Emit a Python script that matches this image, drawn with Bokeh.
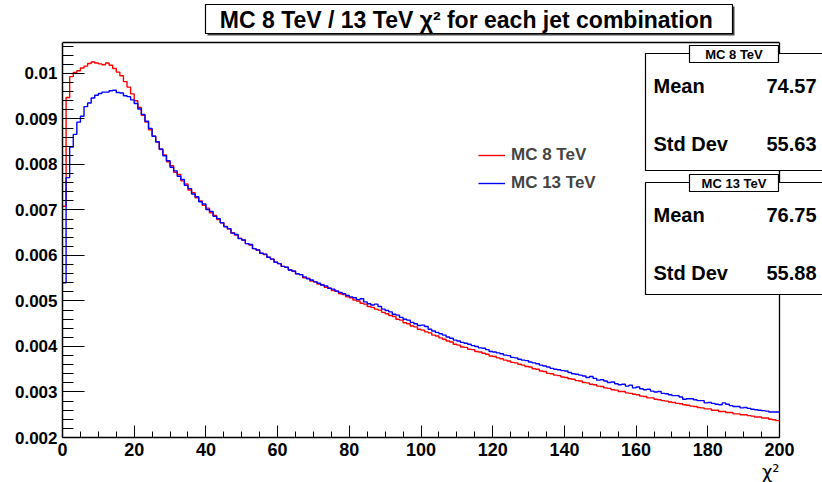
from bokeh.plotting import figure
from bokeh.models import (FixedTicker, CustomJSTickFormatter, Label, BoxAnnotation,
                          Legend, LegendItem, Range1d, Title)
from bokeh.embed import file_html
from bokeh.resources import INLINE

# ---------------- data ----------------
bin_edges = list(range(0, 201))          # 200 bins of width 1 in chi2

mc8 = [
    0.00708, 0.00947, 0.00993, 0.01002, 0.01006, 0.01012, 0.01016, 0.01022, 0.01025, 0.01023,
    0.01021, 0.01019, 0.01023, 0.01018, 0.01011, 0.01003, 0.00995, 0.00982, 0.00970, 0.00955,
    0.00940, 0.00925, 0.00908, 0.00893, 0.00876, 0.00862, 0.00849, 0.00833, 0.00821, 0.00806,
    0.00797, 0.00783, 0.00778, 0.00764, 0.00757, 0.00744, 0.00738, 0.00727, 0.00720, 0.00710,
    0.00704, 0.00694, 0.00688, 0.00679, 0.00672, 0.00664, 0.00658, 0.00650, 0.00645, 0.00638,
    0.00634, 0.00626, 0.00623, 0.00615, 0.00612, 0.00605, 0.00602, 0.00596, 0.00592, 0.00585,
    0.00582, 0.00576, 0.00574, 0.00568, 0.00565, 0.00560, 0.00558, 0.00551, 0.00550, 0.00544,
    0.00542, 0.00537, 0.00535, 0.00530, 0.00528, 0.00523, 0.00521, 0.00516, 0.00514, 0.00509,
    0.00507, 0.00502, 0.00500, 0.00495, 0.00493, 0.00488, 0.00486, 0.00482, 0.00480, 0.00475,
    0.00472, 0.00468, 0.00466, 0.00460, 0.00458, 0.00452, 0.00450, 0.00445, 0.00443, 0.00438,
    0.00436, 0.00432, 0.00430, 0.00425, 0.00423, 0.00419, 0.00416, 0.00412, 0.00410, 0.00405,
    0.00403, 0.00399, 0.00398, 0.00394, 0.00393, 0.00389, 0.00388, 0.00385, 0.00383, 0.00379,
    0.00378, 0.00375, 0.00373, 0.00370, 0.00368, 0.00365, 0.00364, 0.00361, 0.00359, 0.00356,
    0.00355, 0.00351, 0.00350, 0.00346, 0.00345, 0.00341, 0.00340, 0.00337, 0.00336, 0.00333,
    0.00332, 0.00329, 0.00328, 0.00325, 0.00324, 0.00321, 0.00320, 0.00317, 0.00316, 0.00313,
    0.00312, 0.00309, 0.00308, 0.00305, 0.00304, 0.00301, 0.00301, 0.00298, 0.00297, 0.00295,
    0.00294, 0.00291, 0.00290, 0.00287, 0.00287, 0.00284, 0.00283, 0.00281, 0.00280, 0.00278,
    0.00277, 0.00275, 0.00274, 0.00272, 0.00271, 0.00269, 0.00268, 0.00266, 0.00265, 0.00263,
    0.00263, 0.00260, 0.00260, 0.00257, 0.00257, 0.00255, 0.00255, 0.00252, 0.00252, 0.00250,
    0.00250, 0.00248, 0.00247, 0.00245, 0.00245, 0.00243, 0.00243, 0.00240, 0.00239, 0.00237,
]

mc13 = [
    0.00540, 0.00771, 0.00838, 0.00866, 0.00893, 0.00906, 0.00927, 0.00935, 0.00946, 0.00952,
    0.00956, 0.00959, 0.00959, 0.00962, 0.00963, 0.00958, 0.00957, 0.00951, 0.00949, 0.00942,
    0.00934, 0.00922, 0.00910, 0.00895, 0.00879, 0.00862, 0.00850, 0.00834, 0.00819, 0.00808,
    0.00794, 0.00786, 0.00774, 0.00767, 0.00754, 0.00747, 0.00735, 0.00729, 0.00718, 0.00713,
    0.00701, 0.00697, 0.00686, 0.00681, 0.00672, 0.00663, 0.00659, 0.00649, 0.00646, 0.00637,
    0.00634, 0.00626, 0.00624, 0.00615, 0.00612, 0.00605, 0.00603, 0.00596, 0.00592, 0.00585,
    0.00582, 0.00576, 0.00574, 0.00568, 0.00566, 0.00560, 0.00558, 0.00553, 0.00549, 0.00546,
    0.00542, 0.00539, 0.00535, 0.00533, 0.00528, 0.00526, 0.00522, 0.00519, 0.00516, 0.00512,
    0.00509, 0.00507, 0.00503, 0.00505, 0.00498, 0.00494, 0.00491, 0.00493, 0.00488, 0.00482,
    0.00479, 0.00476, 0.00471, 0.00469, 0.00464, 0.00460, 0.00458, 0.00453, 0.00450, 0.00446,
    0.00447, 0.00444, 0.00438, 0.00434, 0.00431, 0.00428, 0.00425, 0.00421, 0.00418, 0.00414,
    0.00412, 0.00409, 0.00407, 0.00405, 0.00402, 0.00400, 0.00397, 0.00396, 0.00393, 0.00389,
    0.00388, 0.00386, 0.00384, 0.00381, 0.00380, 0.00376, 0.00375, 0.00372, 0.00370, 0.00369,
    0.00366, 0.00364, 0.00362, 0.00359, 0.00357, 0.00355, 0.00352, 0.00350, 0.00349, 0.00347,
    0.00346, 0.00343, 0.00340, 0.00339, 0.00337, 0.00335, 0.00332, 0.00334, 0.00330, 0.00326,
    0.00327, 0.00324, 0.00321, 0.00322, 0.00318, 0.00316, 0.00317, 0.00313, 0.00315, 0.00309,
    0.00311, 0.00307, 0.00305, 0.00306, 0.00302, 0.00300, 0.00301, 0.00297, 0.00296, 0.00294,
    0.00292, 0.00292, 0.00289, 0.00284, 0.00285, 0.00285, 0.00283, 0.00281, 0.00281, 0.00276,
    0.00277, 0.00275, 0.00273, 0.00272, 0.00276, 0.00273, 0.00270, 0.00268, 0.00268, 0.00265,
    0.00266, 0.00264, 0.00262, 0.00261, 0.00260, 0.00259, 0.00258, 0.00256, 0.00256, 0.00256,
]

series_names = ["MC 8 TeV", "MC 13 TeV"]
stat_mean = ["74.57", "76.75"]
stat_std = ["55.63", "55.88"]

x_ticks = list(range(0, 201, 20))
x_minor = list(range(0, 201, 5))
y_ticks = [0.002, 0.003, 0.004, 0.005, 0.006, 0.007, 0.008, 0.009, 0.010]
y_minor = [round(0.002 + 0.0002 * i, 6) for i in range(0, 44)]

X_LO, X_HI = 0.0, 200.0          # histogram axis extent
Y_LO, Y_HI = 0.002, 0.01068      # displayed y extent

title_text = "MC 8 TeV / 13 TeV  \u03c7\u00b2 for each jet combination"
x_label = "\u03c7\u00b2"

# ---------------- layout ----------------
W, H = 822, 482
FL, FR, FT, FB = 62, 779, 42, 437      # visible histogram frame in pixels
FONT = "Liberation Sans"

# the Bokeh frame spans to the right and top edges of the canvas so that the
# boxes drawn there are not clipped; the axes are bounded to the histogram extent
x_end = X_LO + (X_HI - X_LO) * (W - FL) / (FR - FL)
y_end = Y_LO + (Y_HI - Y_LO) * FB / (FB - FT)


def sx(cx):
    return cx - FL


def sy(cy):
    return FB - cy


p = figure(width=W, height=H, output_backend="svg", toolbar_location=None,
           title=None,
           x_range=Range1d(X_LO, x_end), y_range=Range1d(Y_LO, y_end),
           min_border=0, min_border_left=FL, min_border_right=0,
           min_border_top=0, min_border_bottom=H - FB)
p.grid.visible = False
p.background_fill_color = "white"
p.border_fill_color = "white"
p.outline_line_color = None

xa = p.xaxis[0]
xa.bounds = (X_LO, X_HI)
xa.ticker = FixedTicker(ticks=x_ticks, minor_ticks=x_minor)
xa.major_tick_in = 12
xa.major_tick_out = 0
xa.minor_tick_in = 6
xa.minor_tick_out = 0
xa.major_label_standoff = 5
ya = p.yaxis[0]
ya.bounds = (Y_LO, Y_HI)
ya.ticker = FixedTicker(ticks=y_ticks, minor_ticks=y_minor)
ya.formatter = CustomJSTickFormatter(code="return tick.toFixed(3).replace(/0+$/, '');")
ya.major_tick_in = 22
ya.major_tick_out = 0
ya.minor_tick_in = 11
ya.minor_tick_out = 0
ya.major_label_standoff = 5
for ax in (xa, ya):
    ax.axis_line_color = "black"
    ax.axis_line_width = 1.5
    ax.major_tick_line_color = "black"
    ax.minor_tick_line_color = "black"
    ax.major_label_text_font = FONT
    ax.major_label_text_font_style = "bold"
    ax.major_label_text_color = "black"
xa.major_label_text_font_size = "18px"
ya.major_label_text_font_size = "17px"

# top and right edges of the histogram frame
p.segment(x0=[X_LO, X_HI], y0=[Y_HI, Y_LO], x1=[X_HI, X_HI], y1=[Y_HI, Y_HI],
          line_color="black", line_width=1.3)

xs = bin_edges
r8 = p.step(x=xs, y=mc8 + [mc8[-1]], mode="after", line_color="#ff0000", line_width=1.4)
r13 = p.step(x=xs, y=mc13 + [mc13[-1]], mode="after", line_color="#0000ff", line_width=1.4)

legend = Legend(items=[LegendItem(label=series_names[0], renderers=[r8]),
                       LegendItem(label=series_names[1], renderers=[r13])],
                location=(sx(478), sy(193)))
legend.padding = 0
legend.margin = 0
legend.spacing = 8
legend.glyph_width = 27
legend.glyph_height = 20
legend.label_height = 20
legend.label_standoff = 6
legend.border_line_color = None
legend.background_fill_alpha = 0
legend.label_text_font = FONT
legend.label_text_font_style = "bold"
legend.label_text_font_size = "17px"
p.add_layout(legend)


def box(l, t, r, b, fill="white", line="black", lw=1):
    p.add_layout(BoxAnnotation(left=sx(l), right=sx(r), top=sy(t), bottom=sy(b),
                               left_units="screen", right_units="screen",
                               top_units="screen", bottom_units="screen",
                               fill_color=fill, fill_alpha=1.0, line_color=line,
                               line_alpha=1.0, line_width=lw, level="overlay"))


def label(cx, cy, text, size, align="left", style="bold"):
    p.add_layout(Label(x=sx(cx), y=sy(cy), x_units="screen", y_units="screen",
                       text=text, text_align=align, text_baseline="middle",
                       text_font=FONT, text_font_style=style,
                       text_font_size=size, text_color="black", level="overlay"))


# title box with shadow
box(207, 6, 734, 35, fill="#444444", line=None)
box(205, 4, 732, 33, lw=1.2)
label(469, 19, title_text, "23px", align="center")

# stats boxes
tops = [53, 182]
bots = [170, 294]
for i in range(2):
    t, b = tops[i], bots[i]
    box(645, t, 830, b, lw=1.2)
    box(689, t - 8, 778, t + 9, lw=1.2)
    label(733.5, t + 0.5, series_names[i], "13px", align="center")
    label(653, t + 32, "Mean", "20px")
    label(816, t + 32, stat_mean[i], "20px", align="right")
    label(653, t + 90, "Std Dev", "20px")
    label(816, t + 90, stat_std[i], "20px", align="right")

# x-axis title, right-aligned at the end of the axis
p.add_layout(Title(text=x_label, align="right", offset=W - FR, standoff=0,
                   text_font="DejaVu Sans", text_font_style="normal",
                   text_font_size="18px", text_color="black"), "below")

open("out.html", "w").write(file_html(p, INLINE))
